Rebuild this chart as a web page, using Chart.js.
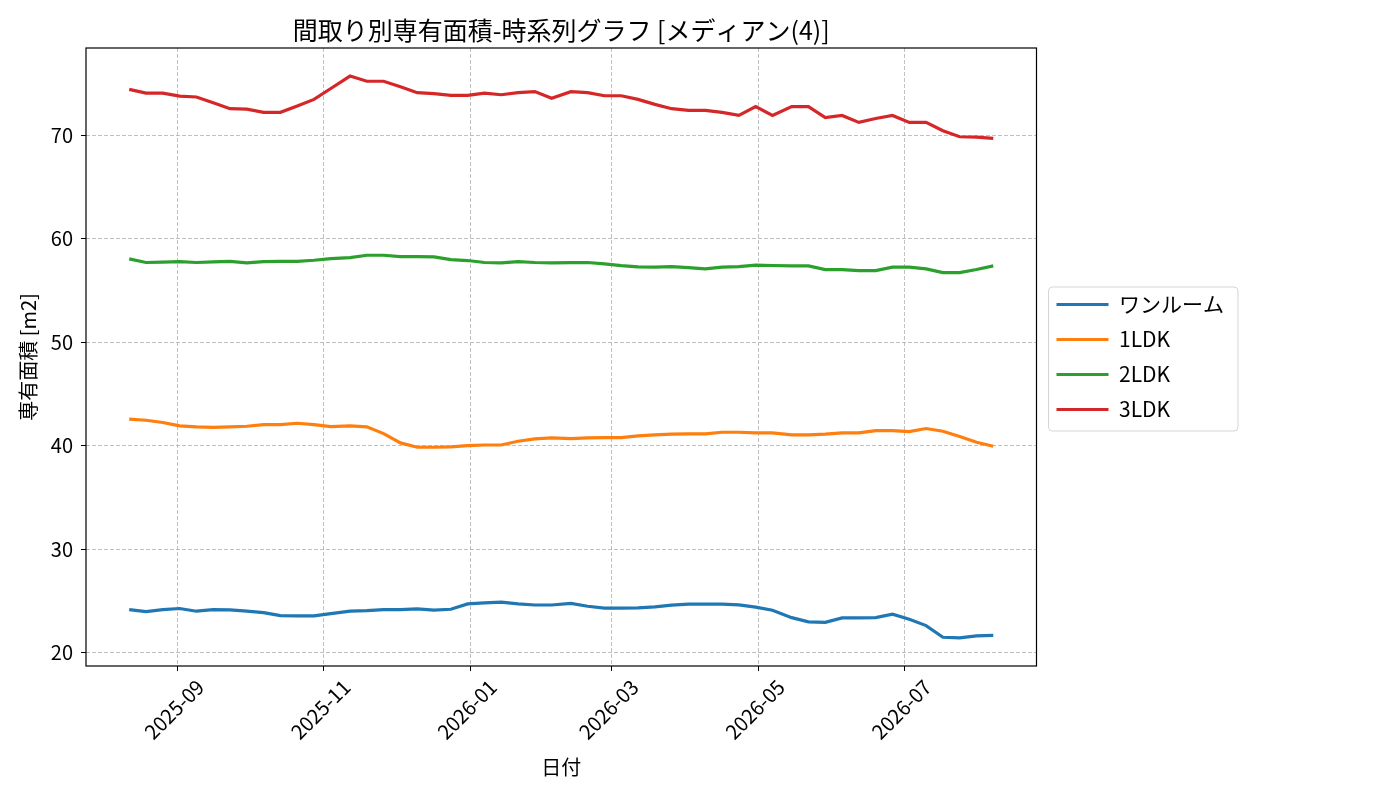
<!DOCTYPE html>
<html lang="ja">
<head>
<meta charset="utf-8">
<title>間取り別専有面積-時系列グラフ</title>
<script src="https://cdn.jsdelivr.net/npm/chart.js@4.4.1/dist/chart.umd.min.js"></script>
<style>
  html, body { margin: 0; padding: 0; background: #fff; }
  #wrap { width: 1400px; height: 800px; }
</style>
</head>
<body>
<div id="wrap"><canvas id="areaChart" width="1400" height="800"></canvas></div>
<script>
// 集計日 (ほぼ週次)
const dates = [
  "2025-08-12", "2025-08-19", "2025-08-26", "2025-09-02", "2025-09-09", "2025-09-16",
  "2025-09-23", "2025-09-30", "2025-10-07", "2025-10-14", "2025-10-21", "2025-10-28",
  "2025-11-04", "2025-11-12", "2025-11-19", "2025-11-26", "2025-12-03", "2025-12-10",
  "2025-12-17", "2025-12-24", "2025-12-31", "2026-01-07", "2026-01-14", "2026-01-21",
  "2026-01-28", "2026-02-04", "2026-02-12", "2026-02-19", "2026-02-26", "2026-03-05",
  "2026-03-12", "2026-03-19", "2026-03-26", "2026-04-02", "2026-04-09", "2026-04-16",
  "2026-04-23", "2026-04-30", "2026-05-07", "2026-05-15", "2026-05-22", "2026-05-29",
  "2026-06-05", "2026-06-12", "2026-06-19", "2026-06-26", "2026-07-03", "2026-07-10",
  "2026-07-17", "2026-07-24", "2026-07-31", "2026-08-07"
];

const seriesNames = ["ワンルーム", "1LDK", "2LDK", "3LDK"];

const oneRoom = [
  24.16, 23.97, 24.16, 24.26, 24.0, 24.16, 24.13, 24.0, 23.87, 23.58,
  23.55, 23.55, 23.77, 24.0, 24.06, 24.16, 24.16, 24.23, 24.1, 24.19,
  24.7, 24.8, 24.87, 24.7, 24.6, 24.6, 24.75, 24.48, 24.29, 24.29,
  24.32, 24.42, 24.58, 24.68, 24.68, 24.68, 24.61, 24.39, 24.09, 23.38,
  22.97, 22.93, 23.35, 23.35, 23.38, 23.71, 23.22, 22.61, 21.48, 21.42,
  21.61, 21.67
];
const ldk1 = [
  42.55, 42.45, 42.23, 41.9, 41.81, 41.77, 41.81, 41.87, 42.03, 42.03,
  42.16, 42.03, 41.84, 41.9, 41.81, 41.16, 40.26, 39.84, 39.84, 39.87,
  40.0, 40.06, 40.06, 40.42, 40.65, 40.74, 40.68, 40.74, 40.77, 40.77,
  40.94, 41.03, 41.1, 41.13, 41.13, 41.29, 41.29, 41.23, 41.23, 41.03,
  41.03, 41.1, 41.23, 41.23, 41.45, 41.45, 41.35, 41.65, 41.39, 40.87,
  40.32, 39.94
];
const ldk2 = [
  58.04, 57.69, 57.72, 57.78, 57.69, 57.75, 57.8, 57.66, 57.78, 57.8,
  57.8, 57.91, 58.07, 58.17, 58.39, 58.39, 58.26, 58.26, 58.23, 57.97,
  57.88, 57.69, 57.66, 57.78, 57.69, 57.66, 57.68, 57.69, 57.55, 57.39,
  57.27, 57.24, 57.3, 57.2, 57.07, 57.24, 57.3, 57.43, 57.4, 57.36,
  57.36, 57.01, 57.01, 56.91, 56.91, 57.24, 57.24, 57.07, 56.72, 56.72,
  57.01, 57.36
];
const ldk3 = [
  74.42, 74.06, 74.06, 73.77, 73.68, 73.13, 72.55, 72.5, 72.2, 72.2,
  72.8, 73.45, 74.5, 75.7, 75.2, 75.2, 74.67, 74.1, 74.0, 73.83,
  73.83, 74.06, 73.9, 74.1, 74.2, 73.55, 74.2, 74.1, 73.8, 73.8,
  73.45, 72.97, 72.55, 72.38, 72.38, 72.2, 71.9, 72.75, 71.9, 72.75,
  72.75, 71.68, 71.9, 71.23, 71.6, 71.9, 71.23, 71.23, 70.42, 69.84,
  69.8, 69.68
];

// x 軸の目盛り (月初)
const tickLabels = ["2025-09", "2025-11", "2026-01", "2026-03", "2026-05", "2026-07"];
const yTicks = [20, 30, 40, 50, 60, 70];

const colors = ["#1f77b4", "#ff7f0e", "#2ca02c", "#d62728"];

// 日付 → 2025-09-01 からの日数
const baseDay = Date.UTC(2025, 8, 1);
function toDays(s) {
  const [y, m, d] = s.split("-").map(Number);
  return (Date.UTC(y, m - 1, d || 1) - baseDay) / 86400000;
}
const xDays = dates.map(toDays);
const tickDays = tickLabels.map(toDays);

// matplotlib 風の 5% 余白
const span = xDays[xDays.length - 1] - xDays[0];
const xMin = xDays[0] - span * 0.05;
const xMax = xDays[xDays.length - 1] + span * 0.05;

const allValues = [oneRoom, ldk1, ldk2, ldk3];
const flat = allValues.flat();
const vSpan = Math.max(...flat) - Math.min(...flat);
const yMin = Math.min(...flat) - vSpan * 0.05;
const yMax = Math.max(...flat) + vSpan * 0.05;

const datasets = allValues.map((vals, i) => ({
  label: seriesNames[i],
  data: vals.map((v, j) => ({ x: xDays[j], y: v })),
  borderColor: colors[i],
  backgroundColor: colors[i],
  borderWidth: 3.2,
  pointRadius: 0,
  tension: 0,
  fill: false,
}));

// 枠線と凡例の囲み
const framePlugin = {
  id: "frame",
  afterLayout(chart) {
    // 凡例を少し右へ
    chart.legend.left += 6;
    chart.legend.right += 6;
  },
  afterDraw(chart) {
    const { ctx, chartArea: a } = chart;
    ctx.save();
    ctx.strokeStyle = "#000";
    ctx.lineWidth = 1.2;
    ctx.strokeRect(a.left, a.top, a.right - a.left, a.bottom - a.top);

    const boxes = chart.legend.legendHitBoxes;
    if (boxes && boxes.length) {
      const x0 = Math.min(...boxes.map((b) => b.left)) - 8;
      const y0 = Math.min(...boxes.map((b) => b.top)) - 7;
      const x1 = Math.max(...boxes.map((b) => b.left + b.width)) + 14;
      const y1 = Math.max(...boxes.map((b) => b.top + b.height)) + 11;
      ctx.strokeStyle = "#d5d5d5";
      ctx.lineWidth = 1;
      ctx.beginPath();
      ctx.roundRect(x0, y0, x1 - x0, y1 - y0, 4);
      ctx.stroke();
    }
    ctx.restore();
  },
};

Chart.defaults.font.family = "'Noto Sans CJK JP', 'Noto Sans', sans-serif";
Chart.defaults.color = "#000";

new Chart(document.getElementById("areaChart"), {
  type: "line",
  data: { datasets },
  options: {
    responsive: false,
    animation: false,
    layout: { padding: { top: 0, right: 172, bottom: 0, left: 0 } },
    plugins: {
      title: {
        display: true,
        text: "間取り別専有面積-時系列グラフ [メディアン(4)]",
        fullSize: false,
        font: { size: 25, weight: "normal" },
        color: "#000",
        padding: { top: 15, bottom: 3 },
      },
      legend: {
        position: "right",
        align: "center",
        fullSize: false,
        labels: {
          usePointStyle: true,
          pointStyle: "line",
          pointStyleWidth: 52,
          font: { size: 21 },
          color: "#000",
          padding: 14,
        },
      },
      tooltip: { enabled: false },
    },
    scales: {
      x: {
        type: "linear",
        min: xMin,
        max: xMax,
        afterFit(scale) { scale.height = 134; },
        afterBuildTicks(scale) {
          scale.ticks = tickDays.map((v) => ({ value: v }));
        },
        ticks: {
          minRotation: 45,
          maxRotation: 45,
          autoSkip: false,
          font: { size: 20 },
          color: "#000",
          padding: 4,
          labelOffset: 23,
          callback: (v) => tickLabels[tickDays.indexOf(v)],
        },
        grid: {
          color: "#b0b0b0",
          lineWidth: 0.8,
          tickLength: 5,
          tickColor: "#000",
          tickWidth: 1,
        },
        border: { display: false, dash: [4, 2] },
        title: {
          display: true,
          text: "日付",
          font: { size: 20 },
          color: "#000",
          padding: { top: 4, bottom: 21 },
        },
      },
      y: {
        type: "linear",
        min: yMin,
        max: yMax,
        afterFit(scale) { scale.width = 86; },
        afterBuildTicks(scale) {
          scale.ticks = yTicks.map((v) => ({ value: v }));
        },
        ticks: {
          font: { size: 20 },
          color: "#000",
          padding: 8,
        },
        grid: {
          color: "#b0b0b0",
          lineWidth: 0.8,
          tickLength: 5,
          tickColor: "#000",
          tickWidth: 1,
        },
        border: { display: false, dash: [4, 2] },
        title: {
          display: true,
          text: "専有面積 [m2]",
          font: { size: 20 },
          color: "#000",
          padding: { top: 16, bottom: 0 },
        },
      },
    },
  },
  plugins: [framePlugin],
});
</script>
</body>
</html>
